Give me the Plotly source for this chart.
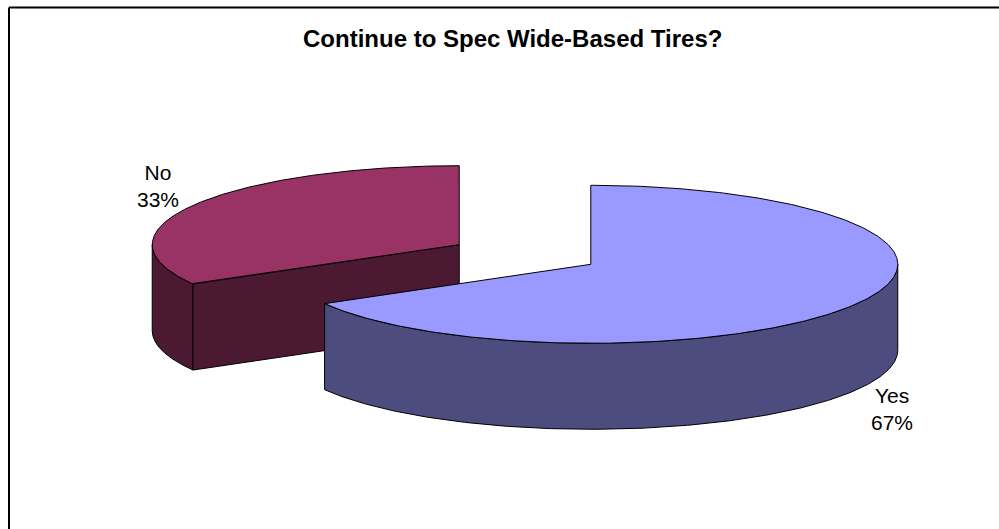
import numpy as np
import plotly.graph_objects as go

# ---- data ----
labels = ["Yes", "No"]
values = [66.7, 33.3]
title_text = "Continue to Spec Wide-Based Tires?"

# ---- style ----
top_colors = ["#9999FF", "#993366"]
side_colors = ["#4C4C7F", "#4C1933"]
CX, CY = 525.0, 254.5      # un-exploded pie centre (pixels)
RX, RY = 307.0, 79.0       # ellipse radii of the tilted pie
DEPTH = 86.0               # thickness of the 3D pie
EXPLODE = 76.0             # explosion distance (in x-radius units)
FONT = "Arial, 'Liberation Sans', sans-serif"


def pt(cx, cy, th_deg, z=0.0):
    th = np.radians(th_deg)
    return cx + RX * np.sin(th), cy - RY * np.cos(th) + z


total = float(sum(values))
slices = []
a = 0.0
for lab, v, tc, sc in zip(labels, values, top_colors, side_colors):
    a0, a1 = a, a + 360.0 * v / total
    a = a1
    b = np.radians((a0 + a1) / 2)
    cx = CX + EXPLODE * np.sin(b)
    cy = CY - EXPLODE * np.cos(b) * RY / RX
    slices.append(dict(label=lab, value=v, a0=a0, a1=a1, cx=cx, cy=cy, tc=tc, sc=sc))

fig = go.Figure()


def add_poly(xs, ys, color):
    xs = list(xs) + [xs[0]]
    ys = list(ys) + [ys[0]]
    fig.add_trace(go.Scatter(x=xs, y=ys, mode="lines", fill="toself",
                             fillcolor=color, line=dict(color="black", width=1),
                             hoverinfo="skip", showlegend=False))


# draw back-to-front
for s in sorted(slices, key=lambda d: d["cy"]):
    cx, cy, a0, a1 = s["cx"], s["cy"], s["a0"], s["a1"]
    # outer wall (front-facing part)
    for lo_v, hi_v in [(90, 270), (450, 630)]:
        lo, hi = max(a0, lo_v), min(a1, hi_v)
        if lo < hi:
            th = np.linspace(lo, hi, 240)
            tx, ty = pt(cx, cy, th)
            bx, by = pt(cx, cy, th[::-1], DEPTH)
            add_poly(np.concatenate([tx, bx]), np.concatenate([ty, by]), s["sc"])
    # radial cut faces
    for ang, visible in [(a0, np.sin(np.radians(a0)) < -1e-9),
                         (a1, np.sin(np.radians(a1)) > 1e-9)]:
        if visible:
            ex, ey = pt(cx, cy, ang)
            add_poly([cx, ex, ex, cx], [cy, ey, ey + DEPTH, cy + DEPTH], s["sc"])
    # top face
    th = np.linspace(a0, a1, 360)
    tx, ty = pt(cx, cy, th)
    add_poly(np.concatenate([[cx], tx]), np.concatenate([[cy], ty]), s["tc"])

# labels
label_pos = {"No": (158, 186), "Yes": (892, 409)}
annotations = []
for s in slices:
    pct = round(100 * s["value"] / total)
    x, y = label_pos[s["label"]]
    annotations.append(dict(x=x, y=y, xref="x", yref="y", showarrow=False,
                            text=f"{s['label']}<br>{pct}%", align="center",
                            font=dict(family=FONT, size=21, color="black"),
                            xanchor="center", yanchor="middle"))
annotations.append(dict(x=512, y=38, xref="x", yref="y", showarrow=False,
                        text=f"<b>{title_text}</b>",
                        font=dict(family=FONT, size=24, color="black"),
                        xanchor="center", yanchor="middle"))

fig.update_layout(
    width=999, height=529,
    margin=dict(l=0, r=0, t=0, b=0),
    paper_bgcolor="white", plot_bgcolor="white",
    xaxis=dict(range=[0, 999], visible=False, fixedrange=True),
    yaxis=dict(range=[529, 0], visible=False, fixedrange=True),
    annotations=annotations,
    shapes=[
        dict(type="line", xref="x", yref="y", x0=9, y0=7.5, x1=999, y1=7.5,
             line=dict(color="black", width=2)),
        dict(type="line", xref="x", yref="y", x0=9, y0=7.5, x1=9, y1=529,
             line=dict(color="black", width=2)),
    ],
)

fig.write_html("out.html")
